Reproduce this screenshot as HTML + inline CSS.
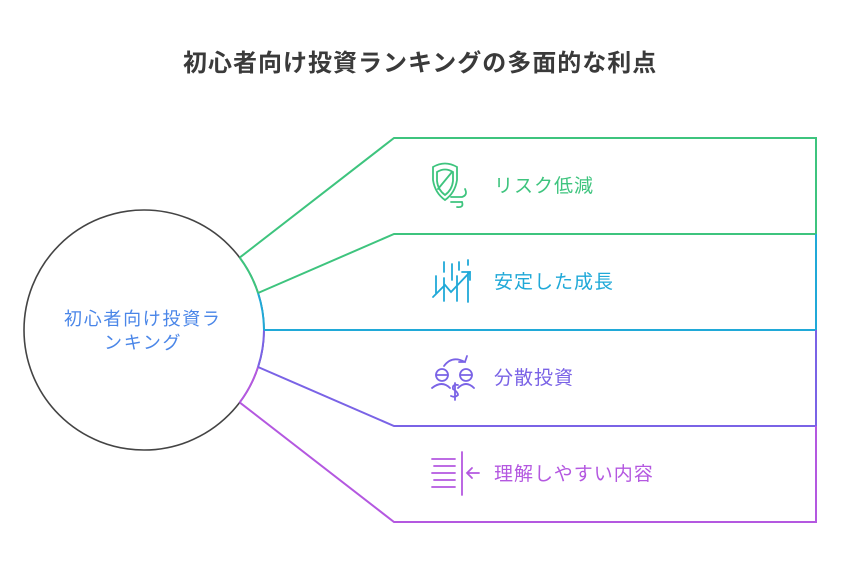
<!DOCTYPE html>
<html><head><meta charset="utf-8"><style>
body{margin:0;background:#fff;}
svg text{font-family:"Liberation Sans","Noto Sans CJK JP",sans-serif;}
</style></head><body>
<svg width="841" height="570" viewBox="0 0 841 570" xmlns="http://www.w3.org/2000/svg">
<text x="183" y="71" font-size="24" letter-spacing="1" font-weight="bold" fill="#3a3a3a">初心者向け投資ランキングの多面的な利点</text>
<g fill="none" stroke-width="2">
<circle cx="144" cy="330" r="120" stroke="#444" stroke-width="1.6"/>
<path d="M239.7,257.6 A120,120 0 0 1 258,293" stroke="#3ec47e"/>
<path d="M258,293 A120,120 0 0 1 264,330" stroke="#20a9d8"/>
<path d="M264,330 A120,120 0 0 1 258,367" stroke="#7a63e6"/>
<path d="M258,367 A120,120 0 0 1 239.7,402.4" stroke="#b458e0"/>
<path d="M239.7,257.6 L394,138 H816 V234" stroke="#3ec47e"/>
<path d="M258,293 L394,234 H816" stroke="#3ec47e"/>
<path d="M816,234 V330 H264" stroke="#20a9d8"/>
<path d="M816,330 V426 H394 L258,367" stroke="#7a63e6"/>
<path d="M816,426 V522 H394 L239.7,402.4" stroke="#b458e0"/>
</g>
<text x="64" y="325" font-size="18" letter-spacing="1.7" fill="#4a86e8">初心者向け投資ラ</text>
<text x="104" y="349" font-size="18" letter-spacing="1.7" fill="#4a86e8">ンキング</text>
<g font-size="19" letter-spacing="1">
<text x="494" y="192" fill="#3ec47e">リスク低減</text>
<text x="494" y="288" fill="#20a9d8">安定した成長</text>
<text x="494" y="384" fill="#7a63e6">分散投資</text>
<text x="494" y="480" fill="#b458e0">理解しやすい内容</text>
</g>
<g fill="none" stroke-width="1.8" stroke-linecap="round">
<g stroke="#3ec47e">
<path d="M433,167 Q445,160 457,167 V180 Q455,193 445,200 Q435,193 433,180 Z"/>
<path d="M437,172 Q445,167 453,172 V181 Q452,190 445,195 Q438,190 437,181 Z"/>
<path d="M438,189 L452,172"/>
<path d="M451,197 H462 Q468,195 465,189"/><path d="M451,202 H462"/><path d="M457,207 Q464,208 462,202"/>
</g>
<g stroke="#20a9d8">
<path d="M436,276 V293 M444,278 V301 M452,264 V280 M457,276 V301 M468,260 V265 M468,272 V302 M444,262 V272 M459,262 V270"/>
<path d="M433,297 L445,285 L451,292 L470,272"/><path d="M462,272 H470 V280"/>
</g>
<g stroke="#7a63e6">
<circle cx="442" cy="375" r="6"/><circle cx="466" cy="375" r="6"/>
<path d="M436,375 H448 M460,375 H472"/>
<path d="M432,388 Q442,380 450,388 M458,388 Q466,380 474,388"/>
<path d="M444,366 Q452,355 465,362 L467,356 M465,362 L459,362"/>
<path d="M458,385 Q452,384 453,389 Q458,392 458,395 Q455,398 451,396 M455,383 V400"/>
</g>
<g stroke="#b458e0">
<path d="M432,459 H455 M434,466 H455 M432,473 H455 M434,480 H455 M432,487 H455"/>
<path d="M462,452 V495"/>
<path d="M467,473 H479 M472,468 L467,473 L472,478"/>
</g>
</g>
</svg>
</body></html>
